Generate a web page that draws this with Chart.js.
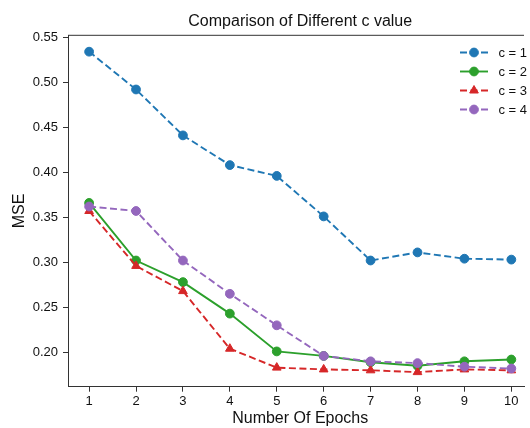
<!DOCTYPE html>
<html>
<head>
<meta charset="utf-8">
<script src="https://cdn.jsdelivr.net/npm/chart.js"></script>
<style>
  html, body { margin: 0; padding: 0; background: #fff; overflow: hidden; }
  canvas { display: block; }
</style>
</head>
<body>
<canvas id="mseChart" width="530" height="428"></canvas>
<script>
// MSE per epoch for each value of c
const epochs = [1, 2, 3, 4, 5, 6, 7, 8, 9, 10];
const mseC1 = [0.534, 0.492, 0.441, 0.408, 0.396, 0.351, 0.302, 0.311, 0.304, 0.303];
const mseC2 = [0.366, 0.302, 0.278, 0.243, 0.201, 0.196, 0.189, 0.185, 0.190, 0.192];
const mseC3 = [0.357, 0.296, 0.268, 0.204, 0.183, 0.181, 0.180, 0.178, 0.181, 0.180];
const mseC4 = [0.362, 0.357, 0.302, 0.265, 0.230, 0.196, 0.190, 0.188, 0.184, 0.182];
const seriesLabels = ['c = 1', 'c = 2', 'c = 3', 'c = 4'];
const yTicks = [0.20, 0.25, 0.30, 0.35, 0.40, 0.45, 0.50, 0.55];

const FONT = "'Liberation Sans', Arial, sans-serif";
const AXIS = '#333';

function series(label, values, color, dash, style, radius, order) {
  return {
    label: label,
    data: epochs.map((e, i) => ({ x: e, y: values[i] })),
    borderColor: color,
    backgroundColor: color,
    borderWidth: 1.9,
    borderDash: dash,
    pointStyle: style,
    pointRadius: radius,
    pointBackgroundColor: color,
    pointBorderColor: color,
    pointBorderWidth: 1,
    tension: 0,
    order: order
  };
}

// title, x label, top spine and an in-plot legend
const decorations = {
  id: 'decorations',
  afterDraw(chart) {
    const ctx = chart.ctx;
    const area = chart.chartArea;
    const xs = chart.scales.x;
    const midX = xs.getPixelForValue(5.5);

    ctx.save();
    ctx.strokeStyle = AXIS;
    ctx.lineWidth = 1;
    ctx.beginPath();
    ctx.moveTo(area.left, area.top);
    ctx.lineTo(area.right, area.top);
    ctx.stroke();

    ctx.fillStyle = '#111';
    ctx.textAlign = 'center';
    ctx.textBaseline = 'middle';
    ctx.font = '16px ' + FONT;
    ctx.fillText('Comparison of Different c value', midX, 21.5);
    ctx.fillText('Number Of Epochs', midX, 418.5);

    // legend
    ctx.font = '13px ' + FONT;
    ctx.textAlign = 'left';
    chart.data.datasets.forEach((ds, i) => {
      const y = 52.5 + i * 19;
      ctx.strokeStyle = ds.borderColor;
      ctx.fillStyle = ds.borderColor;
      ctx.lineWidth = ds.borderWidth;
      ctx.setLineDash(ds.borderDash);
      ctx.beginPath();
      ctx.moveTo(460, y);
      ctx.lineTo(488, y);
      ctx.stroke();
      ctx.setLineDash([]);
      ctx.lineWidth = 1;
      Chart.helpers.drawPoint(ctx, {
        pointStyle: ds.pointStyle, radius: ds.pointRadius, rotation: 0, borderWidth: 1
      }, 474, y);
      ctx.fillStyle = '#111';
      ctx.fillText(ds.label, 498.5, y + 0.5);
    });
    ctx.restore();
  }
};

new Chart(document.getElementById('mseChart'), {
  type: 'line',
  data: {
    datasets: [
      series(seriesLabels[0], mseC1, '#1f77b4', [7, 3.5], 'circle', 4.4, 4),
      series(seriesLabels[1], mseC2, '#2ca02c', [], 'circle', 4.4, 3),
      series(seriesLabels[2], mseC3, '#d62728', [7, 3.5], 'triangle', 5, 2),
      series(seriesLabels[3], mseC4, '#9467bd', [7, 3.5], 'circle', 4.4, 1)
    ]
  },
  options: {
    responsive: false,
    animation: false,
    devicePixelRatio: 1,
    layout: { padding: { top: 35.3, left: 0, right: 0, bottom: 0 } },
    plugins: {
      legend: { display: false },
      title: { display: false },
      tooltip: { enabled: false }
    },
    scales: {
      x: {
        type: 'linear',
        min: 0.55,
        max: 10.27,
        afterBuildTicks: s => { s.ticks = epochs.map(v => ({ value: v })); },
        afterFit: s => { s.height = 41.3; },
        ticks: {
          font: { family: FONT, size: 13 },
          color: '#111',
          padding: 2,
          maxRotation: 0,
          autoSkip: false,
          callback: v => String(v)
        },
        grid: { drawOnChartArea: false, drawTicks: true, tickLength: 5, color: AXIS },
        border: { display: true, color: AXIS, width: 1 }
      },
      y: {
        type: 'linear',
        min: 0.1618,
        max: 0.5522,
        afterBuildTicks: s => { s.ticks = yTicks.map(v => ({ value: v })); },
        afterFit: s => { s.width = 68; },
        ticks: {
          font: { family: FONT, size: 13 },
          color: '#111',
          padding: 5,
          callback: v => v.toFixed(2)
        },
        title: {
          display: true,
          text: 'MSE',
          font: { family: FONT, size: 16 },
          color: '#111',
          padding: { top: 10, bottom: 0 }
        },
        grid: { drawOnChartArea: false, drawTicks: true, tickLength: 5, color: AXIS },
        border: { display: true, color: AXIS, width: 1 }
      }
    }
  },
  plugins: [decorations]
});
</script>
</body>
</html>
